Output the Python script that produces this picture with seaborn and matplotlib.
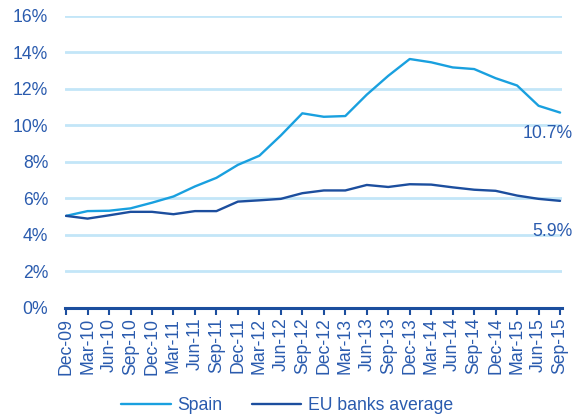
import numpy as np
import pandas as pd
import matplotlib
matplotlib.use("Agg")
import matplotlib.pyplot as plt
import seaborn as sns
from matplotlib.lines import Line2D

quarters = ["Dec-09", "Mar-10", "Jun-10", "Sep-10", "Dec-10", "Mar-11", "Jun-11", "Sep-11",
            "Dec-11", "Mar-12", "Jun-12", "Sep-12", "Dec-12", "Mar-13", "Jun-13", "Sep-13",
            "Dec-13", "Mar-14", "Jun-14", "Sep-14", "Dec-14", "Mar-15", "Jun-15", "Sep-15"]
spain = [5.04, 5.30, 5.32, 5.45, 5.76, 6.10, 6.65, 7.12, 7.83, 8.33, 9.44, 10.65,
         10.46, 10.50, 11.67, 12.70, 13.62, 13.44, 13.16, 13.07, 12.57, 12.17, 11.06, 10.69]
eu_avg = [5.04, 4.89, 5.07, 5.26, 5.26, 5.13, 5.30, 5.30, 5.82, 5.89, 5.97, 6.28,
          6.43, 6.43, 6.73, 6.62, 6.77, 6.75, 6.60, 6.47, 6.41, 6.15, 5.97, 5.86]
series_names = ["Spain", "EU banks average"]
end_labels = ["10.7%", "5.9%"]
y_ticks = [0, 2, 4, 6, 8, 10, 12, 14, 16]

C_SPAIN = "#19A0DF"
C_EU = "#1C4E9E"
C_TEXT = "#2A5BAE"
C_GRID = "#C3E6F8"
FS = 12.7

sns.set_theme(style="white")
plt.rcParams["font.family"] = ["Liberation Sans", "DejaVu Sans"]

df = pd.DataFrame({
    "idx": list(range(len(quarters))) * 2,
    "value": spain + eu_avg,
    "series": [series_names[0]] * len(quarters) + [series_names[1]] * len(quarters),
})

fig = plt.figure(figsize=(5.87, 4.17), dpi=100)
ax = fig.add_axes([65 / 587, 1 - 308 / 417, 497 / 587, (308 - 15.5) / 417])

sns.lineplot(data=df, x="idx", y="value", hue="series", palette=[C_SPAIN, C_EU],
             linewidth=1.7, ax=ax, legend=False)

ax.set_ylim(0, 16)
ax.set_xlim(-0.05, 23.09)
ax.set_yticks(y_ticks)
ax.set_yticklabels([f"{v}%" for v in y_ticks])
ax.set_xticks(range(len(quarters)))
ax.set_xticklabels(quarters, rotation=90)
ax.set_xlabel("")
ax.set_ylabel("")

for v in y_ticks[1:]:
    ax.axhline(v, color=C_GRID, linewidth=2, zorder=0)

for s in ["top", "right", "left"]:
    ax.spines[s].set_visible(False)
ax.spines["bottom"].set_color(C_EU)
ax.spines["bottom"].set_linewidth(2.2)
ax.spines["bottom"].set_zorder(5)

ax.tick_params(axis="y", length=0, pad=12, labelsize=FS, labelcolor=C_TEXT)
ax.tick_params(axis="x", length=5, width=1.5, color=C_EU, direction="out",
               pad=2, labelsize=FS, labelcolor=C_TEXT)
ax.xaxis.set_ticks_position("bottom")

ax.text(23.6, 9.57, end_labels[0], ha="right", va="center", fontsize=FS,
        color=C_TEXT, clip_on=False)
ax.text(23.6, 4.16, end_labels[1], ha="right", va="center", fontsize=FS,
        color=C_TEXT, clip_on=False)

handles = [Line2D([0], [0], color=C_SPAIN, linewidth=1.7),
           Line2D([0], [0], color=C_EU, linewidth=1.7)]
leg = fig.legend(handles, series_names, loc="center", bbox_to_anchor=(287 / 587, 1 - 406 / 417),
                 ncol=2, frameon=False, fontsize=FS, handlelength=2.8, columnspacing=1.7,
                 handletextpad=0.35, borderpad=0.2)
for t in leg.get_texts():
    t.set_color(C_TEXT)

fig.savefig("out.png", dpi=100)
